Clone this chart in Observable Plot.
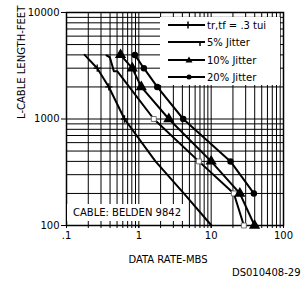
<!DOCTYPE html>
<html><head><meta charset="utf-8">
<script src="https://cdn.jsdelivr.net/npm/d3@7"></script>
<script src="https://cdn.jsdelivr.net/npm/@observablehq/plot@0.6"></script>
<style>
body{margin:0;background:#fff;}
#wrap{position:relative;width:302px;height:283px;font-family:"DejaVu Sans",sans-serif;color:#000;}
.ov{position:absolute;background:#fff;}
</style></head><body><div id="wrap"></div>
<script>
// Cable length (feet) at which each marker sits
const lengths = [4000, 3000, 2000, 1000, 400, 200, 100];
// tr,tf = .3 tui curve (data rate, Mbps)
const rate03ui = [0.178, 0.266, 0.385, 0.634, 1.70, 4.19, 10.1];
const marks03ui = [3000, 2000, 1000];
// 5% jitter curve
const len5 = [3950, 3800, 3180, 2810, 2810, 1000, 400, 200, 100];
const rate5 = [0.357, 0.397, 0.429, 0.451, 0.502, 1.61, 6.76, 20.6, 28.3];
const marks5 = [1000, 400, 200, 100];
// 10% jitter curve
const rate10 = [0.558, 0.811, 1.08, 2.6, 10.0, 24.9, 39.8];
// 20% jitter curve
const len20 = [4000, 3000, 2000, 1000, 400, 200];
const rate20 = [0.881, 1.173, 1.797, 4.11, 18.5, 38.9];

const xTicks = [0.1, 1, 10, 100];
const xTickLabels = [".1", "1", "10", "100"];
const yTicks = [100, 1000, 10000];
const yTickLabels = ["100", "1000", "10000"];
const legendLabels = ["tr,tf = .3 tui", "5% Jitter", "10% Jitter", "20% Jitter"];
const cableLabel = "CABLE: BELDEN 9842";
const xLabel = "DATA RATE-MBS";
const yLabel = "L-CABLE LENGTH-FEET";
const figId = "DS010408-29";

const c1 = lengths.map((L, i) => ({x: rate03ui[i], y: L}));
const c2 = len5.map((L, i) => ({x: rate5[i], y: L}));
const c3 = lengths.map((L, i) => ({x: rate10[i], y: L}));
const c4 = len20.map((L, i) => ({x: rate20[i], y: L}));
const m1 = c1.filter(d => marks03ui.includes(d.y));
const m2 = c2.filter((d, i) => i >= 5 && marks5.includes(d.y));

const xGrid = d3.scaleLog().domain([0.1, 100]).ticks();
const yGrid = d3.scaleLog().domain([100, 10000]).ticks();

const plot = Plot.plot({
  width: 302, height: 283,
  marginLeft: 66, marginRight: 19, marginTop: 12, marginBottom: 58,
  x: {type: "log", domain: [0.1, 100]},
  y: {type: "log", domain: [100, 10000]},
  style: {fontFamily: "DejaVu Sans", fontSize: "10px", color: "#000", background: "#fff"},
  marks: [
    Plot.ruleX(xGrid, {stroke: "#000", strokeWidth: 1}),
    Plot.ruleY(yGrid, {stroke: "#000", strokeWidth: 1}),
    Plot.axisX(xGrid, {tickSize: 3, tickFormat: () => "", label: null}),
    Plot.axisX(xTicks, {tickSize: 3, tickPadding: 3, tickFormat: d => xTickLabels[xTicks.indexOf(d)], label: null}),
    Plot.axisY(yTicks, {tickSize: 5, tickPadding: 2, tickFormat: d => yTickLabels[yTicks.indexOf(d)], label: null}),
    Plot.frame({stroke: "#000", strokeWidth: 1.5}),
    Plot.line(c1, {x: "x", y: "y", stroke: "#000", strokeWidth: 2}),
    Plot.line(c2, {x: "x", y: "y", stroke: "#000", strokeWidth: 2}),
    Plot.line(c3, {x: "x", y: "y", stroke: "#000", strokeWidth: 2}),
    Plot.line(c4, {x: "x", y: "y", stroke: "#000", strokeWidth: 2}),
    Plot.dot(m1, {x: "x", y: "y", symbol: "plus", r: 2.5, stroke: "#000", strokeWidth: 1.3}),
    Plot.dot(m2, {x: "x", y: "y", symbol: "square", r: 2.8, fill: "#fff", stroke: "#555", strokeWidth: 0.8}),
    Plot.dot(c3, {x: "x", y: "y", symbol: "triangle", r: 3.2, fill: "#000", stroke: "#000"}),
    Plot.dot(c4, {x: "x", y: "y", symbol: "circle", r: 2.5, fill: "#000", stroke: "#000"}),
    Plot.text([xLabel], {frameAnchor: "bottom", dx: -7, dy: 37, fill: "#000", fontSize: 10, style: "letter-spacing:0.4px"}),
    Plot.text([yLabel], {frameAnchor: "left", dx: -45, rotate: -90, fill: "#000", fontSize: 10, style: "letter-spacing:0.8px"}),
    Plot.text([figId], {frameAnchor: "bottom-right", dx: 17, dy: 50, textAnchor: "end", fill: "#000", fontSize: 10})
  ]
});
const wrap = document.getElementById("wrap");
wrap.appendChild(plot);

// cable annotation box
const cab = document.createElement("div");
cab.className = "ov";
Object.assign(cab.style, {left: "67px", top: "204px", width: "121px", height: "17px", fontSize: "10px", lineHeight: "17px", paddingLeft: "6px", boxSizing: "border-box", whiteSpace: "nowrap"});
cab.textContent = cableLabel;
wrap.appendChild(cab);

// legend box
const ns = "http://www.w3.org/2000/svg";
const lg = document.createElementNS(ns, "svg");
lg.setAttribute("width", 120); lg.setAttribute("height", 68);
lg.setAttribute("class", "ov");
Object.assign(lg.style, {left: "160px", top: "17px"});
const rows = [8, 25, 43, 60];
let html = `<rect width="120" height="68" fill="#fff"/>`;
rows.forEach((y, i) => {
  html += `<line x1="8" x2="45" y1="${y}" y2="${y}" stroke="#000" stroke-width="2"/>`;
  html += `<text x="47" y="${y}" dy="0.35em" font-family="DejaVu Sans" font-size="10" fill="#000">${legendLabels[i]}</text>`;
});
html += `<line x1="28" x2="28" y1="${rows[0]-3.5}" y2="${rows[0]+3.5}" stroke="#000" stroke-width="1.5"/>`;
html += `<line x1="40" x2="40" y1="${rows[1]}" y2="${rows[1]+4}" stroke="#000" stroke-width="1.5"/>`;
html += `<path d="M29,${rows[2]-3.5}L32.5,${rows[2]+2.5}L25.5,${rows[2]+2.5}Z" fill="#000"/>`;
html += `<circle cx="29" cy="${rows[3]}" r="2.5" fill="#000"/>`;
lg.innerHTML = html;
wrap.appendChild(lg);
</script></body></html>
